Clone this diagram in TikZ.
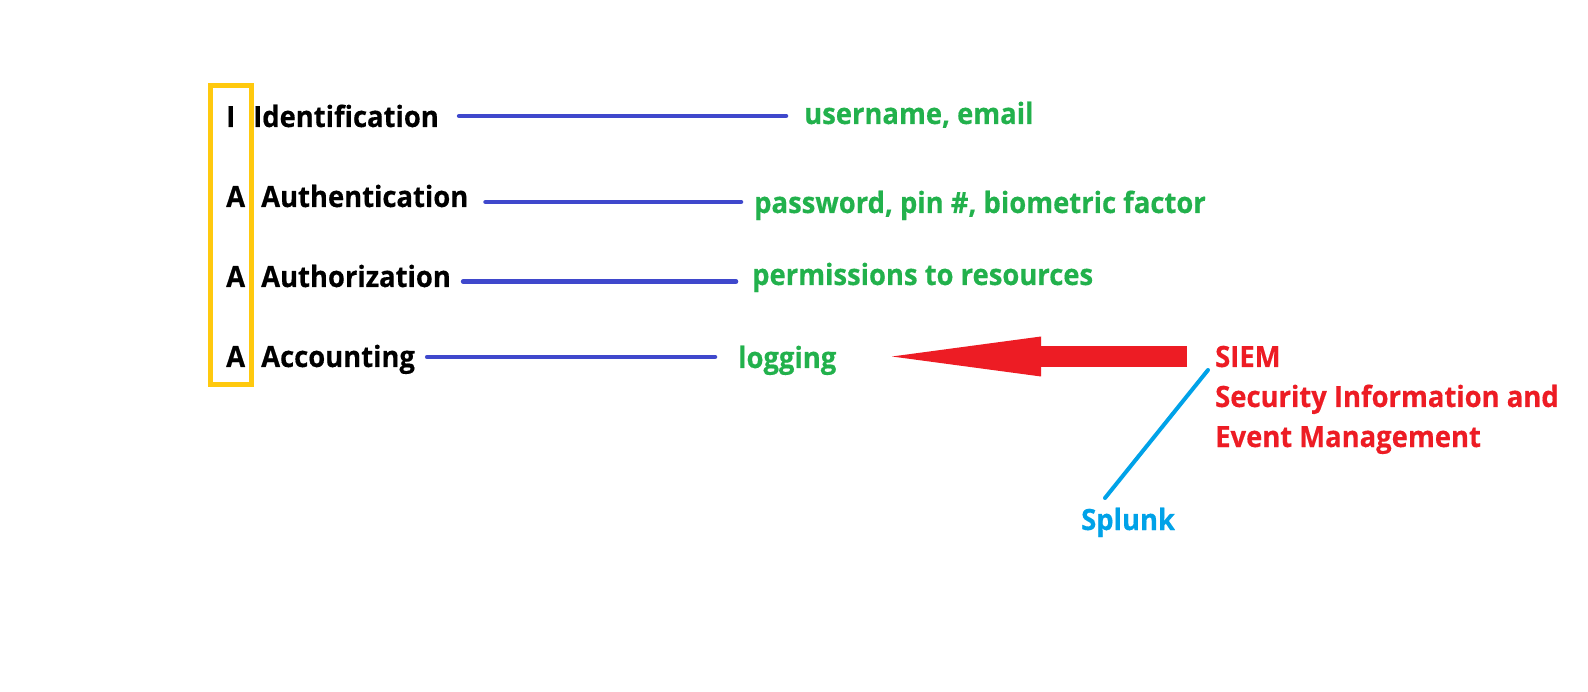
\documentclass[tikz,border=0pt]{standalone}
\usepackage{fontspec}
\setmainfont{Open Sans}[FakeStretch=0.935, BoldFeatures={FakeBold=0.4}]
\usetikzlibrary{arrows.meta}
\definecolor{lineblue}{HTML}{3F48CC}
\definecolor{textgreen}{HTML}{22B14C}
\definecolor{siemred}{HTML}{ED1C24}
\definecolor{splunkcyan}{HTML}{00A2E8}
\definecolor{boxgold}{HTML}{FFC90E}
\begin{document}
\begin{tikzpicture}[x=1pt,y=-1pt,
  txt/.style={anchor=base west, inner sep=0pt, font=\fontsize{29.3}{40}\selectfont\bfseries},
  term/.style={txt, text=black},
  ex/.style={txt, text=textgreen},
  siemtxt/.style={txt, text=siemred},
  bl/.style={draw=lineblue, line width=4.5pt, line cap=round},
  cyanline/.style={draw=splunkcyan, line width=4pt, line cap=round},
  bigarrow/.style={draw=siemred, line width=21pt, -{Triangle[length=149pt, width=40pt, line width=0pt]}}
]
\useasboundingbox (0,0) rectangle (1588,692);
\fill[white] (0,0) rectangle (1588,692);

% yellow box
\node[draw=boxgold, line width=4.5pt, minimum width=41pt, minimum height=299pt, inner sep=0pt] (box) at (231,235) {};

% letters
\node[term] (l1) at (226,127) {I};
\node[term] (l2) at (226,207) {A};
\node[term] (l3) at (226,287) {A};
\node[term] (l4) at (226,367) {A};

% terms
\node[term] (ident) at (253,127) {Identification};
\node[term] (authn) at (261,207) {Authentication};
\node[term] (authz) at (261,287) {Authorization};
\node[term] (acct)  at (261,367) {Accounting};

% examples
\node[ex] (user) at (804,124) {username, email};
\node[ex] (pass) at (754,213) {password, pin \#, biometric factor};
\node[ex] (perm) at (752,285) {permissions to resources};
\node[ex] (logg) at (738,368) {logging};

% SIEM
\node[siemtxt] (siem)  at (1215,367) {SIEM};
\node[siemtxt] (siem2) at (1215,407) {Security Information and};
\node[siemtxt] (siem3) at (1215,447) {Event Management};

% Splunk
\node[txt, text=splunkcyan] (splunk) at (1081,530) {Splunk};

% connectors
\draw[bl] ([xshift=20pt,yshift=11pt]ident.base east) -- ([xshift=-18pt,yshift=8pt]user.base west);
\draw[bl] ([xshift=17pt,yshift=5pt]authn.base east) -- ([xshift=-13pt,yshift=11pt]pass.base west);
\draw[bl] ([xshift=12pt,yshift=5.5pt]authz.base east) -- ([xshift=-16pt,yshift=3.5pt]perm.base west);
\draw[bl] ([xshift=12pt,yshift=10pt]acct.base east) -- ([xshift=-23pt,yshift=11pt]logg.base west);

\draw[bigarrow] ([xshift=-28pt,yshift=10.5pt]siem.base west) -- ([xshift=154pt,yshift=11.5pt]logg.base west);
\draw[cyanline] ([xshift=-7pt,yshift=-3pt]siem.base west) -- ([xshift=24pt,yshift=32pt]splunk.base west);
\end{tikzpicture}
\end{document}
